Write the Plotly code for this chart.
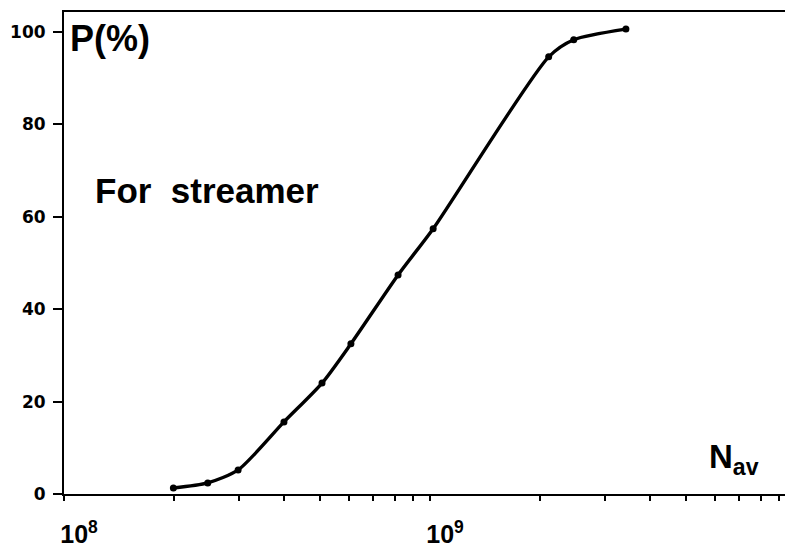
import plotly.graph_objects as go

# Data
N_av = [1.99e8, 2.47e8, 2.99e8, 3.99e8, 5.07e8, 6.08e8, 8.18e8, 1.02e9, 2.11e9, 2.47e9, 3.43e9]
P_pct = [1.3, 2.4, 5.2, 15.6, 24.0, 32.5, 47.4, 57.4, 94.6, 98.3, 100.6]

x_tick_vals = [1e8, 2e8, 3e8, 4e8, 5e8, 6e8, 7e8, 8e8, 9e8,
               1e9, 2e9, 3e9, 4e9, 5e9, 6e9, 7e9, 8e9, 9e9]
x_tick_text = ["10<sup>8</sup>", "", "", "", "", "", "", "", "",
               "10<sup>9</sup>", "", "", "", "", "", "", "", ""]
y_tick_vals = [0, 20, 40, 60, 80, 100]
y_tick_text = ["0", "20", "40", "60", "80", "100"]

W, H = 785, 551
L, R, T, B = 64, 0, 12, 57
pw, ph = W - L - R, H - T - B

def px(xp):
    return (xp - L) / pw

def py(yp):
    return (H - B - yp) / ph

fig = go.Figure()
fig.add_trace(go.Scatter(
    x=N_av, y=P_pct, mode="lines+markers",
    line=dict(color="black", width=3.4, shape="spline", smoothing=0.7),
    marker=dict(color="black", size=7),
    showlegend=False, cliponaxis=False,
))

font_main = "Liberation Sans, Arial, sans-serif"

fig.update_layout(
    width=W, height=H,
    margin=dict(l=L, r=R, t=T, b=B),
    paper_bgcolor="white", plot_bgcolor="white",
    xaxis=dict(
        type="log", range=[8, 8 + pw / 366.0],
        tickvals=x_tick_vals, ticktext=x_tick_text,
        ticks="outside", ticklen=5, tickwidth=1.5, tickcolor="black",
        showline=True, linecolor="black", linewidth=2, mirror=True,
        showgrid=False, zeroline=False,
        tickfont=dict(family=font_main, size=25, color="black", weight="bold"),
        ticklabelshift=15, ticklabelstandoff=12,
    ),
    yaxis=dict(
        range=[0, 104.3],
        tickvals=y_tick_vals, ticktext=y_tick_text,
        ticks="outside", ticklen=9, tickwidth=2, tickcolor="black",
        showline=True, linecolor="black", linewidth=2,
        showgrid=False, zeroline=False,
        tickfont=dict(family="DejaVu Sans, sans-serif", size=17, color="black", weight="bold"),
        ticklabelstandoff=4,
    ),
    annotations=[
        dict(text="P(%)", xref="paper", yref="paper", x=px(68), y=py(38),
             xanchor="left", yanchor="middle", showarrow=False,
             font=dict(family=font_main, size=36, color="black", weight="bold")),
        dict(text="For  streamer", xref="paper", yref="paper", x=px(207), y=py(190),
             xanchor="center", yanchor="middle", showarrow=False,
             font=dict(family=font_main, size=35, color="black", weight="bold")),
        dict(text="N<sub>av</sub>", xref="paper", yref="paper", x=px(707), y=py(459),
             xanchor="left", yanchor="middle", showarrow=False,
             font=dict(family=font_main, size=33, color="black", weight="bold")),
    ],
)

fig.write_html("out.html", config={"displayModeBar": False},
               post_script="document.body.style.margin='0';")
